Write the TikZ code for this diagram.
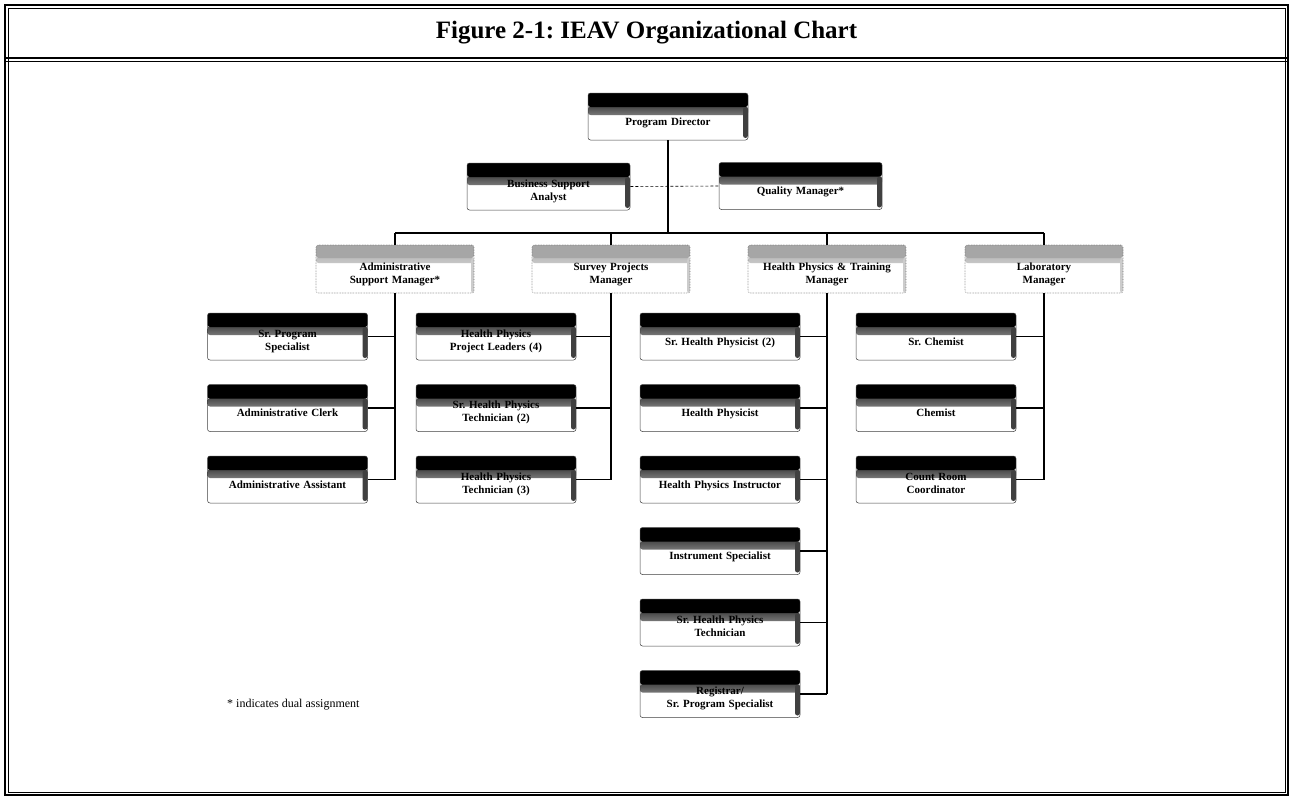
\documentclass[tikz,border=0pt]{standalone}
\usepackage{fontspec}
\setmainfont{Liberation Serif}
\usetikzlibrary{positioning}
\frenchspacing

\begin{document}
\begin{tikzpicture}[x=1pt, y=-1pt,
    post/.style={rectangle, rounded corners=2.5pt, draw=black!75, line width=0.5pt, fill=white,
        minimum width=160pt, minimum height=47pt, text width=154pt, align=center,
        inner xsep=2pt, inner ysep=0pt, text height=32pt, text depth=15pt,
        font=\fontsize{11}{13}\selectfont\bfseries,
        path picture={
            \shade[top color=black, bottom color=white] ([yshift=-13.5pt]path picture bounding box.north west) rectangle ([yshift=-22pt]path picture bounding box.north east);
            \fill[black] (path picture bounding box.north west) rectangle ([yshift=-14pt]path picture bounding box.north east);
            \fill[black!75] ([xshift=-5pt,yshift=-14pt]path picture bounding box.north east) rectangle ([yshift=2pt]path picture bounding box.south east);
        }},
    two/.style={text height=24pt, text depth=23pt},
    lead/.style={rectangle, rounded corners=2.5pt, draw=black!55, densely dotted, line width=0.6pt, fill=white,
        minimum width=158pt, minimum height=48pt, text width=154pt, align=center,
        inner xsep=2pt, inner ysep=0pt, text height=25pt, text depth=23pt,
        font=\fontsize{11}{13}\selectfont\bfseries,
        path picture={
            \shade[top color=black!35, bottom color=white] ([yshift=-12.5pt]path picture bounding box.north west) rectangle ([yshift=-18pt]path picture bounding box.north east);
            \fill[black!35] (path picture bounding box.north west) rectangle ([yshift=-13pt]path picture bounding box.north east);
            \fill[black!20] ([xshift=-3pt,yshift=-13pt]path picture bounding box.north east) rectangle (path picture bounding box.south east);
        }},
    frame/.style={draw=black, line width=1.1pt},
    wire/.style={line width=2.3pt},
    stub/.style={line width=1.6pt},
    ]
    \useasboundingbox (0,0) rectangle (1292,798);
    % Frame and title bar
    \draw[frame] (5,5) rectangle (1288,795);
    \draw[line width=0.5pt] (8,8) rectangle (1285,792);
    \draw[frame] (5,58) -- (1288,58);
    \draw[line width=0.5pt] (5,61.5) -- (1288,61.5);
    \node[font=\fontsize{25}{30}\selectfont\bfseries] (title) at (646.5,33) {Figure 2-1: IEAV Organizational Chart};
    % Director and staff
    \node[post] (pd) at (668,116.5) {Program Director};
    \node[post, two, minimum width=163pt] (bsa) at (548.5,186.5) {Business Support\\Analyst};
    \node[post, minimum width=163pt] (qm) at (800.5,186) {Quality Manager*};
    % Managers
    \node[lead] (asm) at (395,269) {Administrative\\Support Manager*};
    \node[lead] (spm) at (611,269) {Survey Projects\\Manager};
    \node[lead] (hpm) at (827,269) {Health Physics \& Training\\Manager};
    \node[lead] (lbm) at (1044,269) {Laboratory\\Manager};
    % Administrative support staff
    \node[post, two] (sps) at (287.5,336.5) {Sr. Program\\Specialist};
    \node[post] (ac) at (287.5,408) {Administrative Clerk};
    \node[post] (aa) at (287.5,479.5) {Administrative Assistant};
    % Survey projects staff
    \node[post, two] (hppl) at (496,336.5) {Health Physics\\Project Leaders (4)};
    \node[post, two] (shpt2) at (496,408) {Sr. Health Physics\\Technician (2)};
    \node[post, two] (hpt3) at (496,479.5) {Health Physics\\Technician (3)};
    % Health physics and training staff
    \node[post] (shp2) at (720,336.5) {Sr. Health Physicist (2)};
    \node[post] (hp) at (720,408) {Health Physicist};
    \node[post] (hpi) at (720,479.5) {Health Physics Instructor};
    \node[post] (ins) at (720,551) {Instrument Specialist};
    \node[post, two] (shpt) at (720,622.5) {Sr. Health Physics\\Technician};
    \node[post, two] (reg) at (720,694) {Registrar/\\Sr. Program Specialist};
    % Laboratory staff
    \node[post] (sc) at (936,336.5) {Sr. Chemist};
    \node[post] (ch) at (936,408) {Chemist};
    \node[post, two] (crc) at (936,479.5) {Count Room\\Coordinator};
    % Footnote
    \node[anchor=base west, font=\fontsize{12}{14}\selectfont, inner sep=0pt] (note) at (227,707) {* indicates dual assignment};
    % Connections: director to managers
    \coordinate (bus) at (668,233);
    \draw[wire] (pd.south) -- (pd.south |- bus);
    \draw[wire] (asm.north |- bus) -- (lbm.north |- bus);
    \foreach \m in {asm, spm, hpm, lbm}
        \draw[wire] (\m.north |- bus) -- (\m.north);
    % Connections: staff line
    \draw[densely dashed, line width=0.6pt] (bsa.east) -- (qm.west);
    % Connections: managers to staff
    \draw[wire] (asm.south) -- (aa.east -| asm.south);
    \draw[wire] (spm.south) -- (hpt3.east -| spm.south);
    \draw[wire] (hpm.south) -- (reg.east -| hpm.south);
    \draw[wire] (lbm.south) -- (crc.east -| lbm.south);
    \foreach \c/\m in {sps/asm, ac/asm, aa/asm, hppl/spm, shpt2/spm, hpt3/spm,
        shp2/hpm, hp/hpm, hpi/hpm, ins/hpm, shpt/hpm, reg/hpm, sc/lbm, ch/lbm, crc/lbm}
        \draw[stub] (\c.east) -- (\c.east -| \m.south);
\end{tikzpicture}
\end{document}
